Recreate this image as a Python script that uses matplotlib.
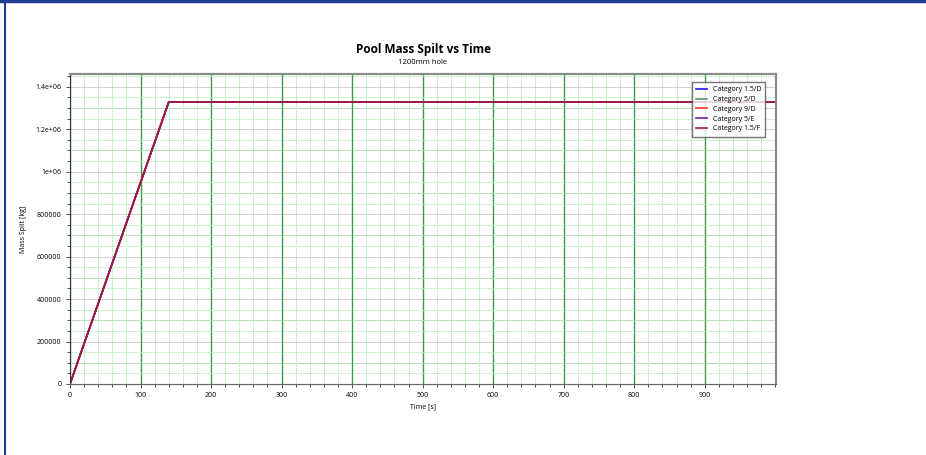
import matplotlib.pyplot as plt
import numpy as np
from matplotlib.ticker import MultipleLocator, FuncFormatter
from matplotlib.lines import Line2D

# pool mass spilt for 1200mm hole (all categories overlap)
time_s = [0, 140, 1000]
mass_kg = [0, 1.328e6, 1.328e6]
categories = ['Category 1.5/D', 'Category 5/D', 'Category 9/D', 'Category 5/E', 'Category 1.5/F']
colors = ['#1a1aff', '#5a9a6a', '#ff2a2a', '#7a1aa0', '#a01c38']

plt.rcParams['font.family'] = ['Open Sans', 'DejaVu Sans']

fig = plt.figure(figsize=(9.26, 4.55), dpi=100)
ax = fig.add_axes([70/926, 1-384/455, 706/926, 310/455])

for name, col in zip(categories, colors):
    ax.plot(time_s, mass_kg, color=col, lw=1.2, label=name)

ax.set_xlim(0, 1001)
ax.set_ylim(0, 1.46e6)
ax.xaxis.set_major_locator(MultipleLocator(100))
ax.xaxis.set_minor_locator(MultipleLocator(20))
ax.yaxis.set_major_locator(MultipleLocator(200000))
ax.yaxis.set_minor_locator(MultipleLocator(50000))

def yfmt(v, pos):
    if v >= 1e6:
        s = '%ge+06' % (v / 1e6)
        return s
    return '%d' % v
ax.yaxis.set_major_formatter(FuncFormatter(yfmt))
ax.set_xticks(np.arange(0, 1000, 100))

# grid
ax.grid(which='minor', axis='x', color='#a5e6a5', lw=0.6, ls=(0, (2, 1)))
ax.grid(which='major', axis='x', color='#3a9a4a', lw=1.0)
ax.grid(which='minor', axis='y', color='#b0e8b0', lw=0.6, ls=(0, (2, 1)))
for yv in np.arange(100000, 1.46e6, 100000):
    ax.axhline(yv, color='#d0d0d0', lw=0.7, zorder=0.5)
ax.set_axisbelow(True)

ax.tick_params(which='both', labelsize=5, length=3, width=0.6, color='#333333', pad=3)
ax.tick_params(which='minor', length=2)
for sp in ['top', 'right']:
    ax.spines[sp].set_color('#8a8a8a')
    ax.spines[sp].set_linewidth(1.6)
ax.spines['left'].set_color('#333333')
ax.spines['bottom'].set_color('#666666')

ax.set_xlabel('Time [s]', fontsize=5, labelpad=3)
ax.set_ylabel('Mass Spilt [kg]', fontsize=5, labelpad=6)

fig.text(423/926, 1-50/455, 'Pool Mass Spilt vs Time', ha='center', va='center', fontsize=8.5, fontweight='bold')
fig.text(423/926, 1-63/455, '1200mm hole', ha='center', va='center', fontsize=5.5)

leg = ax.legend(loc='upper right', fontsize=5, frameon=True, fancybox=False,
                edgecolor='#555555', borderpad=0.6, handlelength=1.6, labelspacing=0.4,
                bbox_to_anchor=(0.99, 0.985))
leg.get_frame().set_linewidth(1.0)

# blue frame of the window
fig.add_artist(Line2D([0, 1], [0.997, 0.997], color='#1f3f8f', lw=2.5, transform=fig.transFigure))
fig.add_artist(Line2D([5/926, 5/926], [0, 1], color='#1f3f8f', lw=1.5, transform=fig.transFigure))

fig.savefig('out.png', dpi=100)
